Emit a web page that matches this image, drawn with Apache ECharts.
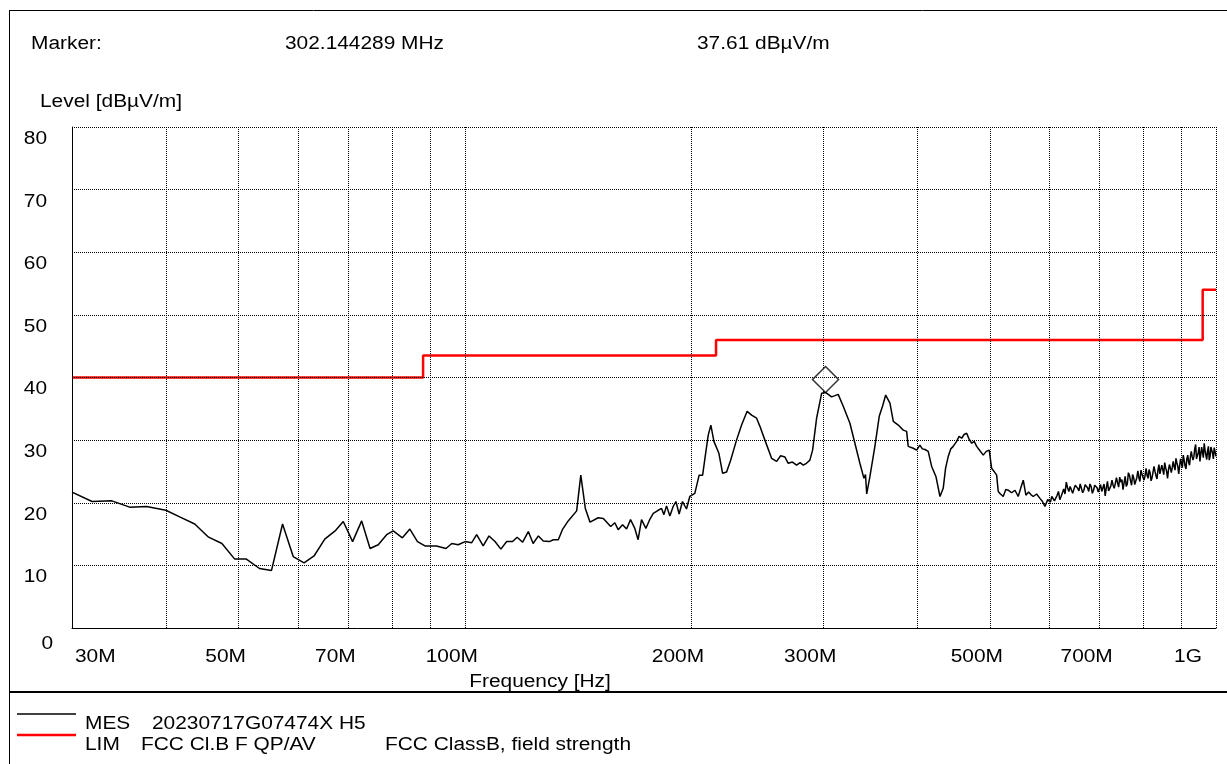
<!DOCTYPE html>
<html><head><meta charset="utf-8">
<script src="https://cdn.jsdelivr.net/npm/echarts@6/dist/echarts.min.js"></script>
<style>html,body{margin:0;padding:0;background:#fff;overflow:hidden}#c{width:1227px;height:764px}</style>
</head><body><div id="c"></div>
<script>
// Measurement trace (MHz, dBµV/m)
const mesFreq = [30,31.9,33.9,35.8,37.7,40.0,41.8,43.7,45.6,47.5,49.4,51.2,53.3,55.3,57.2,59.1,61.1,63.0,65.1,67.2,68.9,70.9,72.9,74.8,76.7,78.7,80.3,82.6,84.5,86.5,88.5,91.7,94.4,96.1,98.0,100.1,102.1,103.7,105.8,107.7,109.7,111.7,113.7,115.8,117.4,119.4,121.5,123.3,125.3,127.2,129.6,131.2,133.2,135.0,137.3,140.9,142.7,144.7,146.8,150.5,152.9,156.4,158.4,160.0,162.2,164.2,166.2,168.4,170.1,171.9,174.2,176.4,178.2,180.9,182.8,184.1,185.6,187.5,189.4,191.0,192.9,194.9,197.3,199.3,202.4,205.1,207.3,209.4,210.9,212.6,214.6,217.9,220.4,223.1,225.9,230.0,233.6,237.6,240.9,244.6,247.1,250.9,256.1,260.1,263.3,266.8,269.5,273.0,276.5,279.5,282.2,285.0,288.0,290.4,294.0,298.6,302.144289,307.8,311.0,314.1,319.0,325.6,330.6,335.7,339.9,341.5,342.8,346.2,351.5,356.2,360.0,363.3,368.1,371.9,377.6,383.4,387.4,389.3,395.3,399.5,403.5,406.5,409.8,413.9,418.3,423.8,429.1,433.4,436.5,440.1,443.5,446.9,451.6,455.0,458.6,462.0,465.7,469.0,472.9,476.5,480.2,485.0,490.0,494.5,499.0,502.7,506.5,510.5,513.0,516.5,520.9,525.0,529.0,534.5,540.0,545.4,549.5,553.9,558.4,563.0,567.0,571.1,577.0,583.0,587.5,591.9,597.0,
  602,604.5,607.2,609.5,612,614.5,617,619.5,622,624.5,627,629.5,632,634.5,637,639.5,642,644.5,647,649.5,652,654.5,657,659.5,662,664.5,667,669.5,672,674.5,677,679.5,682,684.5,687,689.5,692,694.5,697,699.5,702,704.5,707,709.5,712,714.5,717,719.5,722,724.5,727,729.5,732,734.5,737,739.5,742,744.5,747,749.5,752,754.5,757,759.5,762,764.5,767,769.5,772,774.5,777,779.5,782,784.5,787,789.5,792,794.5,797,799.5,802,804.5,807,809.5,812,814.5,817,819.5,822,824.5,827,829.5,832,834.5,837,839.5,842,844.5,847,849.5,852,854.5,857,859.5,862,864.5,867,869.5,872,874.5,877,879.5,882,884.5,887,889.5,892,894.5,897,899.5,902,904.5,907,909.5,912,914.5,917,919.5,922,924.5,927,929.5,932,934.5,937,939.5,942,944.5,947,949.5,952,954.5,957,959.5,962,964.5,967,969.5,972,974.5,977,979.5,982,984.5,987,989.5,992,994.5,997,1000];
const mesLevel = [21.7,20.2,20.3,19.3,19.4,18.8,17.7,16.6,14.5,13.5,11.0,11.0,9.5,9.2,16.6,11.4,10.4,11.5,14.2,15.5,17.0,13.8,17.1,12.7,13.3,14.9,15.5,14.4,15.8,13.8,13.1,13.1,12.7,13.5,13.3,13.8,13.6,14.9,13.1,14.7,13.8,12.6,13.8,13.8,14.5,13.7,15.4,13.5,14.7,13.9,13.8,14.1,14.1,15.8,17.1,18.7,24.4,19.1,16.9,17.6,17.5,16.2,16.8,15.7,16.5,15.8,17.3,15.9,14.1,17.3,15.9,17.4,18.3,18.8,19.1,18.1,19.5,17.9,19.4,20.2,18.2,20.2,19.0,21.0,21.5,24.4,24.4,28.2,30.8,32.4,29.8,27.9,24.7,24.9,26.8,30.0,32.4,34.6,34.0,33.5,32.2,30.0,27.1,26.6,27.5,27.3,26.3,26.5,26.0,26.4,26.0,26.3,26.8,28.4,33.5,37.5,37.61,36.9,37.1,37.3,35.4,32.7,29.5,26.3,23.9,24.5,21.4,24.2,29.0,33.8,35.5,37.2,35.9,33.0,32.4,31.6,31.4,29.0,28.7,28.4,29.2,28.6,28.5,28.2,25.8,24.2,21.0,22.3,25.5,27.4,28.6,29.0,29.8,30.6,30.3,30.9,31.1,30.2,29.5,29.8,29.0,28.3,27.6,28.2,28.4,25.5,25.0,24.4,21.8,21.4,21.0,22.1,22.0,21.6,22.0,21.0,22.3,23.6,21.2,21.7,21.3,21.0,21.4,20.7,20.2,19.4,20.5,
  20.1,21.0,21.2,20.3,20.6,21.2,21.8,20.5,21.0,21.6,22.2,21.4,23.3,22.4,21.8,22.6,22.9,21.5,22.2,22.8,23.0,22.3,21.9,23.0,22.7,21.6,22.0,22.9,23.2,22.4,21.8,23.0,22.6,21.5,22.0,22.8,23.1,22.4,21.7,22.3,22.9,21.8,22.1,23.0,21.1,22.4,23.4,21.9,22.0,22.7,23.6,22.8,22.3,23.1,24.0,23.2,22.5,24.1,23.3,23.7,22.1,23.2,24.2,22.6,23.0,24.8,24.4,23.5,22.8,24.5,24.0,22.9,23.2,24.0,25.1,24.0,23.4,25.2,24.6,24.9,23.6,24.3,25.5,24.4,23.9,25.3,24.8,23.5,24.0,24.9,25.8,25.0,24.3,23.8,25.2,26.1,24.6,24.9,26.0,25.3,24.5,26.4,25.6,25.0,23.9,25.3,26.1,25.5,24.8,25.6,26.6,25.8,25.2,27.1,26.4,25.8,24.6,25.9,27.0,26.3,25.6,27.6,26.8,25.9,25.4,27.0,27.6,26.5,26.0,27.3,28.2,27.4,26.8,27.4,28.6,29.3,27.0,27.3,28.0,28.9,26.6,27.8,28.9,28.0,27.2,29.5,28.4,27.6,26.9,28.3,29.0,26.8,27.4,28.9,28.7,27.9,27.0,28.8,28.2,27.4];
// Limit line FCC Cl.B
const limFreq = [30,88,88,216,216,960,960,1000];
const limLevel = [40,40,43.5,43.5,46,46,54,54];
// Axes
const gridFreqs = [40,50,60,70,80,90,100,200,300,400,500,600,700,800,900,1000];
const xTickFreqs = [30,50,70,100,200,300,500,700,1000];
const xTickLabels = ['30M','50M','70M','100M','200M','300M','500M','700M','1G'];
const yTicks = [0,10,20,30,40,50,60,70,80];
const markerFreq = 302.144289;
const markerLevel = 37.61;

const FONT = '18px "Liberation Sans", Arial, sans-serif';
const SX = 1.16;

const chart = echarts.init(document.getElementById('c'), null, {renderer:'canvas'});
const zip = (a,b)=>a.map((v,i)=>[v,b[i]]);
chart.setOption({
  animation:false,
  backgroundColor:'#fff',
  grid:{left:72, top:127, width:1144, height:501},
  xAxis:{type:'log', logBase:10, min:30, max:1000,
    axisLine:{show:true, onZero:false, lineStyle:{color:'#000', width:1}},
    axisTick:{show:false}, axisLabel:{show:false}, splitLine:{show:false}, z:10},
  yAxis:{type:'value', min:0, max:80, interval:10,
    axisLine:{show:true, onZero:false, lineStyle:{color:'#000', width:1}},
    axisTick:{show:false}, axisLabel:{show:false},
    splitLine:{show:true, lineStyle:{color:'#000', width:1, type:[1,1]}}, z:10},
  series:[
    {type:'line', name:'LIM', data:zip(limFreq,limLevel), showSymbol:false, symbol:'none',
     lineStyle:{color:'#ff0000', width:2.5}, z:3,
     markLine:{silent:true, symbol:['none','none'], label:{show:false},
       lineStyle:{color:'#000', width:1, type:[1,1]},
       data:gridFreqs.map(f=>({xAxis:f}))}},
    {type:'line', name:'MES', data:zip(mesFreq,mesLevel), showSymbol:false, symbol:'none',
     lineStyle:{color:'#000', width:1.5}, z:4},
    {type:'scatter', data:[[markerFreq, markerLevel]], symbol:'diamond', symbolSize:26,
     symbolOffset:[0,'-50%'], itemStyle:{color:'#fff', borderColor:'#000', borderWidth:1.5}, z:5}
  ]
});

function txt(text, x, y, align){
  return {type:'text', x:x, y:y, scaleX:SX, scaleY:1, z:100,
    style:{text:text, font:FONT, fill:'#000', align:align||'left', verticalAlign:'middle'}};
}
const g = [];
// frame
g.push({type:'line', shape:{x1:9.5,y1:10,x2:9.5,y2:764}, style:{stroke:'#000', lineWidth:1}});
g.push({type:'line', shape:{x1:9,y1:10.5,x2:1227,y2:10.5}, style:{stroke:'#000', lineWidth:1}});
g.push({type:'line', shape:{x1:9,y1:692,x2:1227,y2:692}, style:{stroke:'#000', lineWidth:2}});
// header
g.push(txt('Marker:', 31, 44));
g.push(txt(markerFreq.toFixed(6)+' MHz', 285, 44));
g.push(txt(markerLevel.toFixed(2)+' dBµV/m', 697, 44));
g.push(txt('Level [dBµV/m]', 40, 102));
// y labels
yTicks.forEach(v=>{
  const py = chart.convertToPixel({yAxisIndex:0}, v);
  if (v===0) g.push(txt(String(v), 53, py+16, 'right'));
  else g.push(txt(String(v), 47, py+12, 'right'));
});
// x labels
xTickFreqs.forEach((f,i)=>{
  const px = chart.convertToPixel({xAxisIndex:0}, f);
  let x = px-13, al='center';
  if (i===0){ x = px+3; al='left'; }
  if (i===xTickFreqs.length-1){ x = px-28; }
  g.push(txt(xTickLabels[i], x, 657, al));
});
g.push(txt('Frequency [Hz]', 540, 682, 'center'));
// legend
g.push({type:'line', shape:{x1:17,y1:714,x2:76,y2:714}, style:{stroke:'#000', lineWidth:1.5}});
g.push({type:'line', shape:{x1:17,y1:735,x2:76,y2:735}, style:{stroke:'#ff0000', lineWidth:2.5}});
g.push(txt('MES', 85, 724));
g.push(txt('20230717G07474X H5', 152, 724));
g.push(txt('LIM', 85, 745));
g.push(txt('FCC Cl.B F QP/AV', 141, 745));
g.push(txt('FCC ClassB, field strength', 385, 745));
chart.setOption({graphic:g});
</script></body></html>
